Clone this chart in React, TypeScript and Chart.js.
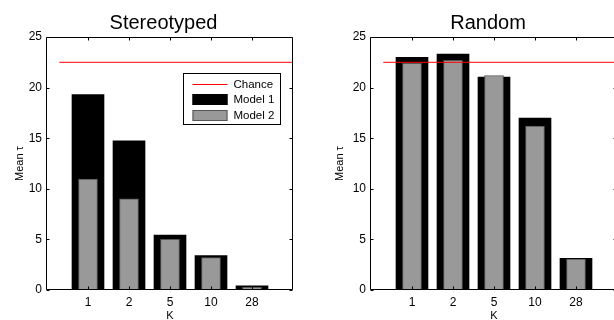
import React, { useEffect, useRef } from 'react';
import { Chart, registerables } from 'chart.js';

Chart.register(...registerables);

// ---- data ----
const kLabels = ['1', '2', '5', '10', '28'];
const kIndex = [1, 2, 3, 4, 5];
const chanceLevel = 22.5;
const chanceSpan = [0.3, 6];
const stereoModel1 = [19.3, 14.75, 5.43, 3.39, 0.4];
const stereoModel2 = [10.97, 9.0, 5.0, 3.2, 0.26];
const randomModel1 = [23.0, 23.3, 21.05, 17.0, 3.13];
const randomModel2 = [22.4, 22.7, 21.2, 16.2, 3.06];
const yTicks = [0, 5, 10, 15, 20, 25];

const FAMILY = "'Liberation Sans', Arial, Helvetica, sans-serif";

const boxPlugin = {
  id: 'matlabBox',
  afterLayout(chart: any, _args: any, opts: any) {
    const t = chart.titleBlock;
    if (t && opts.titleShift) {
      t.left += opts.titleShift;
      t.right += opts.titleShift;
    }
  },
  afterDraw(chart: any) {
    const { ctx, chartArea: a, scales } = chart;
    const L = Math.round(a.left) - 0.5;
    const R = Math.round(a.right) - 0.5;
    const T = Math.round(a.top) + 0.5;
    const B = Math.round(a.bottom) - 0.5;
    const tl = 3;
    ctx.save();
    ctx.strokeStyle = '#000';
    ctx.lineWidth = 1;
    ctx.beginPath();
    ctx.rect(L, T, R - L, B - T);
    kIndex.forEach((v) => {
      const px = Math.round(scales.x.getPixelForValue(v)) + 0.5;
      ctx.moveTo(px, T);
      ctx.lineTo(px, T + tl);
      ctx.moveTo(px, B);
      ctx.lineTo(px, B - tl);
    });
    yTicks.forEach((v) => {
      const py = Math.round(scales.y.getPixelForValue(v)) + 0.5;
      ctx.moveTo(L, py);
      ctx.lineTo(L + tl, py);
      ctx.moveTo(R, py);
      ctx.lineTo(R - tl, py);
    });
    ctx.stroke();
    ctx.restore();
  },
};

const legendPlugin = {
  id: 'insetLegend',
  afterDraw(chart: any, _args: any, opts: any) {
    if (!opts.show) return;
    const { ctx, chartArea: a } = chart;
    const w = 97;
    const h = 51;
    const x = Math.round(a.right - 13 - w) + 0.5;
    const y = Math.round(a.top + 36) + 0.5;
    ctx.save();
    ctx.fillStyle = '#fff';
    ctx.fillRect(x, y, w, h);
    ctx.strokeStyle = '#000';
    ctx.lineWidth = 1;
    ctx.strokeRect(x, y, w, h);
    ctx.font = `11.5px ${FAMILY}`;
    ctx.textBaseline = 'middle';
    ctx.textAlign = 'left';
    chart.data.datasets.forEach((ds: any, i: number) => {
      const cy = Math.round(y + 10 + i * 15.8);
      if (ds.type === 'line') {
        ctx.strokeStyle = ds.borderColor;
        ctx.beginPath();
        ctx.moveTo(x + 9, cy + 0.5);
        ctx.lineTo(x + 44, cy + 0.5);
        ctx.stroke();
      } else {
        ctx.fillStyle = ds.backgroundColor;
        ctx.fillRect(x + 9, cy - 5, 35, 11);
        ctx.strokeStyle = ds.borderColor;
        ctx.strokeRect(x + 9.5, cy - 4.5, 34, 10);
      }
      ctx.fillStyle = '#000';
      ctx.fillText(ds.label, x + 50, cy + 1);
    });
    ctx.restore();
  },
};

type PanelProps = {
  title: string;
  m1: number[];
  m2: number[];
  legend: boolean;
  left: number;
  width: number;
  yWidth: number;
  padRight: number;
  titleShift: number;
  yTitlePad: number;
};

function Panel(p: PanelProps) {
  const ref = useRef<HTMLCanvasElement>(null);
  useEffect(() => {
    const chart = new Chart(ref.current as HTMLCanvasElement, {
      type: 'bar',
      data: {
        datasets: [
          {
            type: 'line',
            label: 'Chance',
            data: chanceSpan.map((x) => ({ x, y: chanceLevel })),
            borderColor: '#ff0000',
            borderWidth: 1,
            pointRadius: 0,
            fill: false,
            order: 0,
          } as any,
          {
            type: 'bar',
            label: 'Model 1',
            data: kIndex.map((x, i) => ({ x, y: p.m1[i] })),
            backgroundColor: '#000000',
            borderColor: '#000000',
            borderWidth: 0,
            barThickness: 32,
            grouped: false,
            order: 2,
          } as any,
          {
            type: 'bar',
            label: 'Model 2',
            data: kIndex.map((x, i) => ({ x, y: p.m2[i] })),
            backgroundColor: '#999999',
            borderColor: '#555555',
            borderWidth: 1,
            barThickness: 19,
            grouped: false,
            order: 1,
          } as any,
        ],
      },
      options: {
        responsive: false,
        animation: false,
        layout: { padding: { left: 0, right: p.padRight, top: 0, bottom: 0 } },
        scales: {
          x: {
            type: 'linear',
            min: 0,
            max: 6,
            offset: false,
            afterFit: (s: any) => {
              s.height = 30;
            },
            ticks: {
              stepSize: 1,
              autoSkip: false,
              maxRotation: 0,
              padding: 5,
              color: '#000',
              font: { family: FAMILY, size: 12 },
              callback: (v: any) => {
                const i = kIndex.indexOf(Number(v));
                return i >= 0 ? kLabels[i] : '';
              },
            },
            grid: { display: false, drawTicks: false },
            border: { display: false },
            title: {
              display: true,
              text: 'K',
              color: '#000',
              font: { family: FAMILY, size: 11, lineHeight: 0.75 },
              padding: 0,
            },
          },
          y: {
            type: 'linear',
            min: 0,
            max: 25,
            afterFit: (s: any) => {
              s.width = p.yWidth;
            },
            ticks: {
              stepSize: 5,
              padding: 5,
              color: '#000',
              font: { family: FAMILY, size: 12 },
            },
            grid: { display: false, drawTicks: false },
            border: { display: false },
            title: {
              display: true,
              text: 'Mean τ',
              color: '#000',
              font: { family: FAMILY, size: 11, lineHeight: 1 },
              padding: { top: p.yTitlePad, bottom: 0 },
            },
          },
        } as any,
        plugins: {
          legend: { display: false },
          tooltip: { enabled: false },
          title: {
            display: true,
            text: p.title,
            fullSize: false,
            color: '#000',
            font: { family: FAMILY, size: 20, weight: 'normal', lineHeight: 1.2 },
            padding: { top: 11, bottom: 2 },
          },
          matlabBox: { titleShift: p.titleShift },
          insetLegend: { show: p.legend },
        } as any,
      },
      plugins: [boxPlugin, legendPlugin],
    });
    return () => chart.destroy();
  }, []);
  return (
    <canvas
      ref={ref}
      width={p.width}
      height={320}
      style={{ position: 'absolute', left: p.left, top: 0, width: p.width, height: 320 }}
    />
  );
}

export default function App() {
  return (
    <div
      style={{
        position: 'fixed',
        left: 0,
        top: 0,
        width: 614,
        height: 320,
        overflow: 'hidden',
        background: '#ffffff',
      }}
    >
      <Panel
        title="Stereotyped"
        m1={stereoModel1}
        m2={stereoModel2}
        legend={true}
        left={0}
        width={307}
        yWidth={47}
        padRight={14}
        titleShift={-6.5}
        yTitlePad={14.5}
      />
      <Panel
        title="Random"
        m1={randomModel1}
        m2={randomModel2}
        legend={false}
        left={307}
        width={320}
        yWidth={64}
        padRight={10}
        titleShift={-6}
        yTitlePad={27}
      />
    </div>
  );
}
